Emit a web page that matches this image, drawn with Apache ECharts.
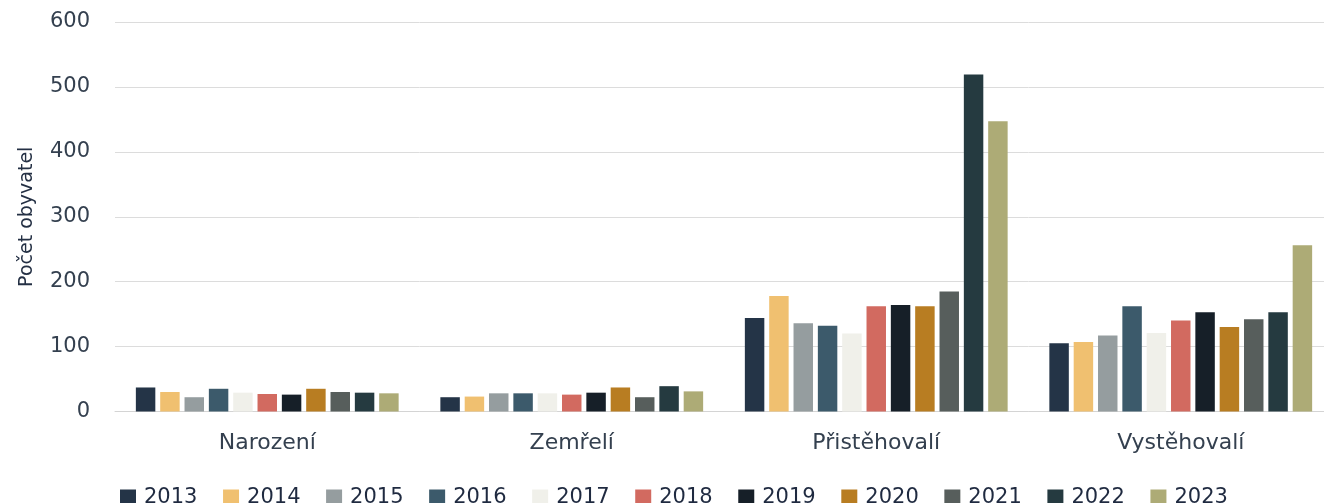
<!DOCTYPE html>
<html>
<head>
<meta charset="utf-8">
<script src="https://cdn.jsdelivr.net/npm/echarts@6/dist/echarts.min.js"></script>
<style>html,body{margin:0;padding:0;background:#fff;overflow:hidden;}#c{width:1334px;height:503px;}</style>
</head>
<body>
<div id="c"></div>
<script>
const categories = ['Narození', 'Zemřelí', 'Přistěhovalí', 'Vystěhovalí'];
const years = ['2013','2014','2015','2016','2017','2018','2019','2020','2021','2022','2023'];
const v2013 = [37, 22, 144, 105];
const v2014 = [30, 23, 178, 107];
const v2015 = [22, 28, 136, 117];
const v2016 = [35, 28, 132, 162];
const v2017 = [29, 28, 120, 121];
const v2018 = [27, 26, 162, 140];
const v2019 = [26, 29, 164, 153];
const v2020 = [35, 37, 162, 130];
const v2021 = [30, 22, 185, 142];
const v2022 = [29, 39, 519, 153];
const v2023 = [28, 31, 447, 256];
const yTicks = [0, 100, 200, 300, 400, 500, 600];

const values = [v2013, v2014, v2015, v2016, v2017, v2018, v2019, v2020, v2021, v2022, v2023];
const colors = ['#243447','#F0C070','#959D9F','#3C5A6B','#F0F0EA','#D26A60','#161F28','#B87D22','#575E5C','#253A40','#ADAB76'];
const FONT = 'DejaVu Sans';

const chart = echarts.init(document.getElementById('c'), null, {renderer: 'canvas'});
chart.setOption({
  animation: false,
  backgroundColor: '#ffffff',
  color: colors,
  grid: {left: 115, right: 1, top: 22, bottom: 91.5, containLabel: false},
  legend: {
    data: years,
    left: 115,
    top: 482,
    itemWidth: 16,
    itemHeight: 16,
    itemGap: 25.6,
    icon: 'rect',
    textStyle: {fontFamily: FONT, fontSize: 21, color: '#1f2a40', padding: [0, 0, 0, 3]}
  },
  xAxis: {
    type: 'category',
    data: categories,
    axisLine: {show: true, lineStyle: {color: '#d4d4d4', width: 1}},
    axisTick: {show: false},
    axisLabel: {fontFamily: FONT, fontSize: 22, color: '#34404f', margin: 21}
  },
  yAxis: {
    type: 'value',
    min: yTicks[0],
    max: yTicks[yTicks.length - 1],
    interval: 100,
    name: 'Počet obyvatel',
    nameLocation: 'middle',
    nameGap: 78,
    nameTextStyle: {fontFamily: FONT, fontSize: 19, color: '#243044'},
    axisLine: {show: false},
    axisTick: {show: false},
    splitLine: {show: true, lineStyle: {color: '#dcdcdc', width: 1}},
    axisLabel: {fontFamily: FONT, fontSize: 21, color: '#34404f', margin: 25}
  },
  series: years.map((y, i) => ({
    name: y,
    type: 'bar',
    data: values[i],
    barGap: '25%',
    barCategoryGap: '13.7%',
    itemStyle: {color: colors[i]}
  }))
});
</script>
</body>
</html>
